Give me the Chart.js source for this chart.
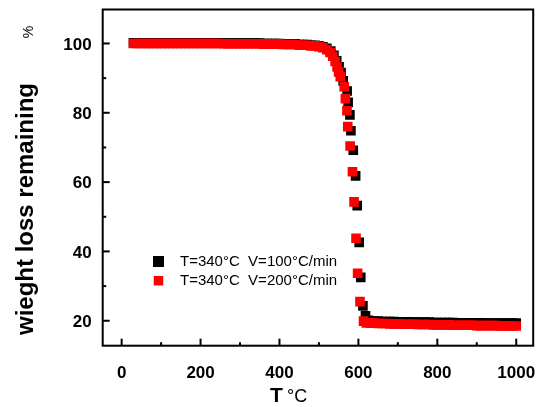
<!DOCTYPE html>
<html><head><meta charset="utf-8">
<script src="https://cdn.jsdelivr.net/npm/chart.js@4/dist/chart.umd.min.js"></script>
<style>html,body{margin:0;padding:0;background:#fff}#wrap{width:540px;height:407px;position:relative}</style>
</head><body><div id="wrap"><canvas id="c" width="540" height="407"></canvas></div>
<script>
const seriesNames = ['T=340°C  V=100°C/min', 'T=340°C  V=200°C/min'];
const xTickValues = [0, 100, 200, 300, 400, 500, 600, 700, 800, 900, 1000];
const xTickLabels = ['0', '200', '400', '600', '800', '1000'];
const yTickValues = [20, 30, 40, 50, 60, 70, 80, 90, 100];
const yTickLabels = ['20', '40', '60', '80', '100'];
const xTitle = ['T', '°C'];
const yTitle = ['wieght loss remaining', '%'];

// black series (V=100°C/min)
const tempBlack = [30,40,50,60,70,80,90,100,110,120,130,140,150,160,170,180,190,200,210,220,230,240,250,
  260,270,280,290,300,310,320,330,340,350,360,370,380,390,400,410,420,430,440,450,460,470,480,490,500,
  510,520,530,538,545,551,556,561.5,571.5,574,578.5,581,587,593,597,602,606,611.5,618,625,
  630,640,650,660,670,680,690,700,710,720,730,740,750,760,770,780,790,800,810,820,830,840,850,860,870,880,890,900,910,920,930,940,950,960,970,980,990,1000];
const lossBlack = [100.2,100.2,100.2,100.2,100.2,100.2,100.2,100.2,100.2,100.2,100.2,100.2,100.2,100.2,100.2,100.2,100.2,100.2,100.2,100.2,100.2,100.2,100.2,
  100.1,100.1,100.1,100.1,100.1,100.1,100.1,100.1,100.1,100.1,100.0,100.0,100.0,100.0,100.0,99.9,99.9,99.9,99.9,99.7,99.7,99.7,99.5,99.5,99.3,
  99.0,98.6,97.8,96.6,95.0,93.3,91.6,89.2,86.3,83.0,79.4,74.8,69.2,61.8,53.2,42.6,32.5,24.3,21.4,20.1,
  19.9,19.9,19.9,19.8,19.8,19.8,19.8,19.7,19.7,19.7,19.7,19.6,19.6,19.6,19.6,19.6,19.5,19.5,19.5,19.5,19.5,19.5,19.4,19.4,19.4,19.4,19.4,19.4,19.4,19.3,19.3,19.3,19.3,19.3,19.3,19.3,19.3,19.3];

// red series (V=200°C/min)
const tempRed = [30,40,50,60,70,80,90,100,110,120,130,140,150,160,170,180,190,200,210,220,230,240,250,
  260,270,280,290,300,310,320,330,340,350,360,370,380,390,400,410,420,430,440,450,460,470,480,490,500,
  510,520,528,535,541,546,550,554,564,567,571,573,579,585,589,594,598,604,613,620,
  630,640,650,660,670,680,690,700,710,720,730,740,750,760,770,780,790,800,810,820,830,840,850,860,870,880,890,900,910,920,930,940,950,960,970,980,990,1000];
const lossRed = [100.0,100.0,100.0,100.0,100.0,100.0,100.0,100.0,100.0,100.0,100.0,100.0,100.0,100.0,100.0,100.0,100.0,100.0,100.0,100.0,100.0,100.0,100.0,
  99.9,99.9,99.9,99.9,99.9,99.9,99.9,99.9,99.9,99.9,99.8,99.8,99.8,99.8,99.8,99.7,99.7,99.7,99.7,99.5,99.5,99.5,99.3,99.3,99.1,
  98.8,98.2,97.4,96.3,94.8,93.2,91.8,90.4,87.5,84.1,80.6,76.0,70.4,63.0,54.3,43.8,33.7,25.5,19.9,19.4,
  19.3,19.3,19.2,19.2,19.2,19.1,19.1,19.1,19.0,19.0,19.0,19.0,18.9,18.9,18.9,18.9,18.8,18.8,18.8,18.8,18.8,18.7,18.7,18.7,18.7,18.7,18.7,18.6,18.6,18.6,18.6,18.6,18.6,18.5,18.5,18.5,18.5,18.5];

const FONT = '"Liberation Sans", Arial, sans-serif';
const toPts = (xs, ys) => xs.map((x, i) => ({x: x, y: ys[i]}));

const decor = {
  id: 'decor',
  afterDraw(chart) {
    const ctx = chart.ctx, a = chart.chartArea, xs = chart.scales.x, ys = chart.scales.y;
    ctx.save();
    ctx.strokeStyle = '#000';
    ctx.fillStyle = '#000';
    ctx.lineWidth = 2;
    ctx.strokeRect(a.left, a.top, a.right - a.left, a.bottom - a.top);
    const seg = (x1, y1, x2, y2) => { ctx.beginPath(); ctx.moveTo(x1, y1); ctx.lineTo(x2, y2); ctx.stroke(); };
    ctx.font = 'bold 17px ' + FONT;
    ctx.textBaseline = 'alphabetic';
    xs.ticks.forEach(t => {
      const p = xs.getPixelForValue(t.value);
      const lab = String(t.value);
      const major = xTickLabels.includes(lab);
      seg(p, a.bottom, p, a.bottom - (major ? 7 : 3.5));
      if (major) { ctx.textAlign = 'center'; ctx.fillText(lab, p, 377.5); }
    });
    ys.ticks.forEach(t => {
      const p = ys.getPixelForValue(t.value);
      const lab = String(t.value);
      const major = yTickLabels.includes(lab);
      seg(a.left, p, a.left + (major ? 7 : 3.5), p);
      if (major) { ctx.textAlign = 'right'; ctx.fillText(lab, a.left - 11, p + 6.2); }
    });
    // x title
    ctx.textAlign = 'left';
    ctx.font = 'bold 21px ' + FONT;
    ctx.fillText(xTitle[0], 270, 402);
    ctx.font = '18px ' + FONT;
    ctx.fillText(xTitle[1], 287, 402);
    // y title
    ctx.save();
    ctx.translate(33, 0);
    ctx.rotate(-Math.PI / 2);
    ctx.font = 'bold 24px ' + FONT;
    ctx.textAlign = 'center';
    ctx.fillText(yTitle[0], -209, 0);
    ctx.font = '14px ' + FONT;
    ctx.fillText(yTitle[1], -32, 0);
    ctx.restore();
    // legend
    const colors = ['#000000', '#ff0000'];
    const ly = [261.5, 280.7];
    ctx.font = '15px ' + FONT;
    ctx.textAlign = 'left';
    ctx.textBaseline = 'middle';
    seriesNames.forEach((n, i) => {
      ctx.fillStyle = colors[i];
      const s = i === 0 ? 11 : 9.5;
      ctx.fillRect(158.5 - s / 2, ly[i] - s / 2, s, s);
      ctx.fillStyle = '#000';
      ctx.fillText(n, 180, ly[i] + 0.5);
    });
    ctx.restore();
  }
};

new Chart(document.getElementById('c'), {
  type: 'scatter',
  data: {
    datasets: [
      { label: seriesNames[1], data: toPts(tempRed, lossRed), backgroundColor: '#ff0000', borderWidth: 0,
        pointStyle: 'rect', pointRadius: 6.8, pointHoverRadius: 6.8 },
      { label: seriesNames[0], data: toPts(tempBlack, lossBlack), backgroundColor: '#000000', borderWidth: 0,
        pointStyle: 'rect', pointRadius: 6.8, pointHoverRadius: 6.8 }
    ]
  },
  options: {
    responsive: false,
    animation: false,
    devicePixelRatio: 1,
    layout: { padding: { left: 0, right: 2.5, top: 9.5, bottom: 0 } },
    plugins: { legend: { display: false }, tooltip: { enabled: false } },
    scales: {
      x: {
        type: 'linear', min: -48, max: 1043,
        afterBuildTicks: s => { s.ticks = xTickValues.map(v => ({value: v})); },
        afterFit: s => { s.height = 61.3; },
        grid: { display: false, drawTicks: false },
        border: { display: false },
        ticks: { display: false }
      },
      y: {
        type: 'linear', min: 12.8, max: 109.8,
        afterBuildTicks: s => { s.ticks = yTickValues.map(v => ({value: v})); },
        afterFit: s => { s.width = 102.7; },
        grid: { display: false, drawTicks: false },
        border: { display: false },
        ticks: { display: false }
      }
    }
  },
  plugins: [decor]
});
</script></body></html>
